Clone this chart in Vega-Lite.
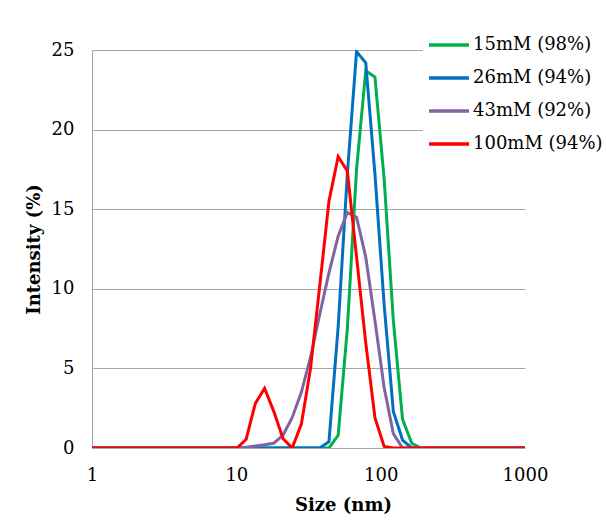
{
  "$schema": "https://vega.github.io/schema/vega-lite/v6.json",
  "autosize": {"type": "none"},
  "width": 433,
  "height": 398,
  "padding": {"left": 92, "top": 50, "right": 81, "bottom": 72},
  "background": "white",
  "config": {
    "font": "DejaVu Serif",
    "view": {"stroke": null},
    "axis": {"labelFont": "DejaVu Serif", "titleFont": "DejaVu Serif", "labelColor": "#000", "titleColor": "#000", "labelFontSize": 18, "titleFontSize": 18, "titleFontWeight": "bold"}
  },
  "data": {"values": [
    {"s": "15mM (98%)", "size": 1, "v": 0},
    {"s": "15mM (98%)", "size": 43.82, "v": 0},
    {"s": "15mM (98%)", "size": 50.75, "v": 0.8},
    {"s": "15mM (98%)", "size": 58.77, "v": 7.5},
    {"s": "15mM (98%)", "size": 68.06, "v": 17.5},
    {"s": "15mM (98%)", "size": 78.82, "v": 23.7},
    {"s": "15mM (98%)", "size": 91.28, "v": 23.3},
    {"s": "15mM (98%)", "size": 105.7, "v": 16.9},
    {"s": "15mM (98%)", "size": 122.4, "v": 8.0},
    {"s": "15mM (98%)", "size": 141.8, "v": 1.8},
    {"s": "15mM (98%)", "size": 164.2, "v": 0.3},
    {"s": "15mM (98%)", "size": 190.1, "v": 0},
    {"s": "15mM (98%)", "size": 1000, "v": 0},
    {"s": "26mM (94%)", "size": 1, "v": 0},
    {"s": "26mM (94%)", "size": 37.84, "v": 0},
    {"s": "26mM (94%)", "size": 43.82, "v": 0.4},
    {"s": "26mM (94%)", "size": 50.75, "v": 7.6},
    {"s": "26mM (94%)", "size": 58.77, "v": 17.2},
    {"s": "26mM (94%)", "size": 68.06, "v": 24.9},
    {"s": "26mM (94%)", "size": 78.82, "v": 24.2},
    {"s": "26mM (94%)", "size": 91.28, "v": 17.2},
    {"s": "26mM (94%)", "size": 105.7, "v": 9.0},
    {"s": "26mM (94%)", "size": 122.4, "v": 2.3},
    {"s": "26mM (94%)", "size": 141.8, "v": 0.5},
    {"s": "26mM (94%)", "size": 164.2, "v": 0},
    {"s": "26mM (94%)", "size": 1000, "v": 0},
    {"s": "43mM (92%)", "size": 1, "v": 0},
    {"s": "43mM (92%)", "size": 10.10, "v": 0},
    {"s": "43mM (92%)", "size": 11.70, "v": 0.05},
    {"s": "43mM (92%)", "size": 13.54, "v": 0.12},
    {"s": "43mM (92%)", "size": 15.69, "v": 0.2},
    {"s": "43mM (92%)", "size": 18.17, "v": 0.3},
    {"s": "43mM (92%)", "size": 21.04, "v": 0.8},
    {"s": "43mM (92%)", "size": 24.36, "v": 1.9},
    {"s": "43mM (92%)", "size": 28.21, "v": 3.5},
    {"s": "43mM (92%)", "size": 32.67, "v": 5.7},
    {"s": "43mM (92%)", "size": 37.84, "v": 8.4},
    {"s": "43mM (92%)", "size": 43.82, "v": 11.0},
    {"s": "43mM (92%)", "size": 50.75, "v": 13.3},
    {"s": "43mM (92%)", "size": 58.77, "v": 14.8},
    {"s": "43mM (92%)", "size": 68.06, "v": 14.5},
    {"s": "43mM (92%)", "size": 78.82, "v": 12.0},
    {"s": "43mM (92%)", "size": 91.28, "v": 8.0},
    {"s": "43mM (92%)", "size": 105.7, "v": 3.8},
    {"s": "43mM (92%)", "size": 122.4, "v": 0.9},
    {"s": "43mM (92%)", "size": 141.8, "v": 0},
    {"s": "43mM (92%)", "size": 1000, "v": 0},
    {"s": "100mM (94%)", "size": 1, "v": 0},
    {"s": "100mM (94%)", "size": 10.10, "v": 0},
    {"s": "100mM (94%)", "size": 11.70, "v": 0.55},
    {"s": "100mM (94%)", "size": 13.54, "v": 2.8},
    {"s": "100mM (94%)", "size": 15.69, "v": 3.75},
    {"s": "100mM (94%)", "size": 18.17, "v": 2.3},
    {"s": "100mM (94%)", "size": 21.04, "v": 0.6},
    {"s": "100mM (94%)", "size": 24.36, "v": 0},
    {"s": "100mM (94%)", "size": 28.21, "v": 1.5},
    {"s": "100mM (94%)", "size": 32.67, "v": 5.0},
    {"s": "100mM (94%)", "size": 37.84, "v": 10.2},
    {"s": "100mM (94%)", "size": 43.82, "v": 15.5},
    {"s": "100mM (94%)", "size": 50.75, "v": 18.3},
    {"s": "100mM (94%)", "size": 58.77, "v": 17.4},
    {"s": "100mM (94%)", "size": 68.06, "v": 12.0},
    {"s": "100mM (94%)", "size": 78.82, "v": 6.6},
    {"s": "100mM (94%)", "size": 91.28, "v": 1.9},
    {"s": "100mM (94%)", "size": 105.7, "v": 0.1},
    {"s": "100mM (94%)", "size": 122.4, "v": 0},
    {"s": "100mM (94%)", "size": 1000, "v": 0}
  ]},
  "encoding": {
    "x": {"field": "size", "type": "quantitative",
      "scale": {"type": "log", "domain": [1, 1000], "nice": false},
      "axis": {"values": [1, 10, 100, 1000], "grid": false, "ticks": false, "domain": false, "labelFlush": false, "labelPadding": 18, "title": "Size (nm)", "titlePadding": 12, "titleX": 251, "format": "d"}},
    "y": {"field": "v", "type": "quantitative",
      "scale": {"domain": [0, 25], "nice": false},
      "axis": {"values": [0, 5, 10, 15, 20, 25], "grid": true, "gridColor": "#a6a6a6", "gridWidth": 1, "ticks": false, "domain": true, "domainColor": "#a6a6a6", "labelPadding": 18, "title": "Intensity (%)", "titlePadding": 8}},
    "color": {"field": "s", "type": "nominal",
      "scale": {"domain": ["15mM (98%)", "26mM (94%)", "43mM (92%)", "100mM (94%)"], "range": ["#00b050", "#0070c0", "#8064a2", "#ff0000"]},
      "legend": {"title": null, "orient": "none", "legendX": 331, "legendY": -31, "fillColor": "white", "padding": 4, "symbolType": "stroke", "symbolSize": 1600, "symbolStrokeWidth": 3.5, "labelFontSize": 18, "labelFont": "DejaVu Serif", "labelColor": "#000", "labelOffset": 2, "rowPadding": 2, "labelLimit": 300}}
  },
  "layer": [
    {"transform": [{"filter": "datum.s === '15mM (98%)'"}], "mark": {"type": "line", "strokeWidth": 3, "clip": true}},
    {"transform": [{"filter": "datum.s === '26mM (94%)'"}], "mark": {"type": "line", "strokeWidth": 3, "clip": true}},
    {"transform": [{"filter": "datum.s === '43mM (92%)'"}], "mark": {"type": "line", "strokeWidth": 3, "clip": true}},
    {"transform": [{"filter": "datum.s === '100mM (94%)'"}], "mark": {"type": "line", "strokeWidth": 3, "clip": true}}
  ]
}
